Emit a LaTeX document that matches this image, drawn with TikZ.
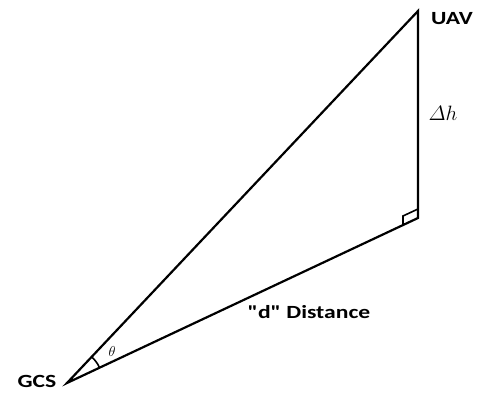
\documentclass[tikz,border=0pt]{standalone}
\usepackage{amsmath}
\usepackage{fontspec}
\newfontfamily\lblfont{Carlito}
\tikzset{
  edge/.style={line width=2.2pt, line cap=round, line join=miter},
  lbl/.style={font=\lblfont\bfseries\fontsize{18.6}{20}\selectfont, inner sep=0pt},
}
\newcommand{\wide}[1]{\scalebox{1.27}[1]{#1}}
\begin{document}
\begin{tikzpicture}[x=1pt,y=-1pt]
\useasboundingbox (0,0) rectangle (488,395);
\coordinate (G) at (67,383);
\coordinate (C) at (418,218);
\coordinate (U) at (418,11);
\draw[edge] (G) -- (U) -- (C) -- cycle;
% right angle marker
\coordinate (M1) at (403,225);
\coordinate (M2) at (403,216);
\coordinate (M3) at (418,209);
\draw[line width=1.6pt] (M1) -- (M2) -- (M3);
% angle arc
\draw[line width=1.6pt] (G) ++(-46.6:36) arc[start angle=-46.6, end angle=-25.3, radius=36];
\node[inner sep=0pt, font=\fontsize{14}{16}\selectfont] (th) at (112,352) {$\theta$};
\node[lbl] (uav) at (452,19) {\wide{UAV}};
\node[lbl] (gcs) at (37,381) {\wide{GCS}};
\node[lbl] (dist) at (309,312) {\wide{"d" Distance}};
\node[inner sep=0pt, font=\fontsize{22}{26}\selectfont] (dh) at (443,113) {$\varDelta h$};
\end{tikzpicture}
\end{document}
